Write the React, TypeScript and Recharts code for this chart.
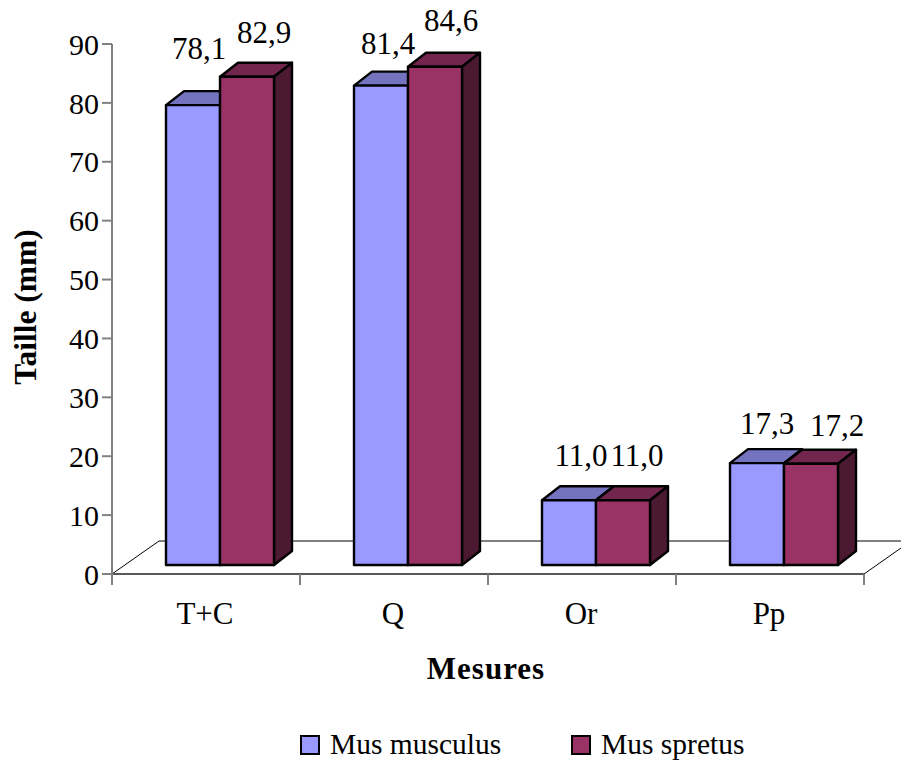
import { BarChart, Bar, XAxis, YAxis, Legend, LabelList } from "recharts";

const categories = ["T+C", "Q", "Or", "Pp"];
const musMusculus = [78.1, 81.4, 11.0, 17.3];
const musSpretus = [82.9, 84.6, 11.0, 17.2];
const yTicks = [0, 10, 20, 30, 40, 50, 60, 70, 80, 90];

const chartData = categories.map((name, i) => ({
  name,
  musculus: musMusculus[i],
  spretus: musSpretus[i],
}));

const FONT = '"Liberation Serif", serif';
const WIDTH = 901;
const HEIGHT = 762;
const LEFT = 112;
const TOP = 44;
const RIGHT = 864;
const BOTTOM = 574;
const BAND = (RIGHT - LEFT) / categories.length;

// the bars stand on a floor drawn behind them
const LIFT_X = 14;
const LIFT_Y = 9;
const DEPTH_X = 18;
const DEPTH_Y = 14;
const FLOOR_X = 47;
const FLOOR_Y = 33;

// where each value label sits relative to the top of its bar
const musculusNudge = [
  { dx: 6, gap: 46 },
  { dx: 7, gap: 32 },
  { dx: 12, gap: 34 },
  { dx: 10, gap: 29 },
];
const spretusNudge = [
  { dx: 17, gap: 34 },
  { dx: 16, gap: 36 },
  { dx: 14, gap: 34 },
  { dx: 26, gap: 28 },
];

function Box3D(props: any) {
  const { x, y, width, height, fill, topFill, sideFill } = props;
  const left = x + LIFT_X;
  const right = left + width;
  const top = y - LIFT_Y;
  const bottom = top + height;
  return (
    <g stroke="#000" strokeWidth={2.4} strokeLinejoin="round">
      <polygon
        points={`${left},${top} ${left + DEPTH_X},${top - DEPTH_Y} ${right + DEPTH_X},${top - DEPTH_Y} ${right},${top}`}
        fill={topFill}
      />
      <polygon
        points={`${right},${top} ${right + DEPTH_X},${top - DEPTH_Y} ${right + DEPTH_X},${bottom - DEPTH_Y} ${right},${bottom}`}
        fill={sideFill}
      />
      <rect x={left} y={top} width={width} height={height} fill={fill} />
    </g>
  );
}

function valueLabel(nudges: { dx: number; gap: number }[]) {
  return (props: any) => {
    const { x, y, width, value, index } = props;
    const n = nudges[index];
    return (
      <text
        x={x + LIFT_X + width / 2 + n.dx}
        y={y - LIFT_Y - n.gap}
        textAnchor="middle"
        fontFamily={FONT}
        fontSize={31}
        fill="#000"
      >
        {Number(value).toFixed(1).replace(".", ",")}
      </text>
    );
  };
}

function CategoryTick(props: any) {
  const { x, y, index, payload } = props;
  const last = index === categories.length - 1;
  return (
    <g>
      <line x1={x - BAND / 2} x2={x - BAND / 2} y1={BOTTOM} y2={BOTTOM + 11} stroke="#808080" strokeWidth={2} />
      {last && <line x1={x + BAND / 2} x2={x + BAND / 2} y1={BOTTOM} y2={BOTTOM + 11} stroke="#808080" strokeWidth={2} />}
      <text x={x - 1} y={y + 42} textAnchor="middle" fontFamily={FONT} fontSize={31} fill="#000">
        {payload.value}
      </text>
    </g>
  );
}

function LegendRow({ payload }: any) {
  return (
    <div style={{ position: "relative", height: 36, fontFamily: FONT, fontSize: 29.5, color: "#000" }}>
      {(payload || []).map((entry: any, i: number) => (
        <div key={entry.value} style={{ position: "absolute", left: i === 0 ? 300 : 571, top: 0, display: "flex", alignItems: "center", whiteSpace: "nowrap" }}>
          <span style={{ width: 16, height: 16, background: entry.color, border: "2px solid #000", marginRight: 10 }} />
          <span>{entry.value}</span>
        </div>
      ))}
    </div>
  );
}

export default function App() {
  return (
    <div style={{ position: "absolute", left: 0, top: 0, width: WIDTH, height: HEIGHT, background: "#fff" }}>
      <BarChart
        width={WIDTH}
        height={HEIGHT}
        data={chartData}
        barSize={54}
        barGap={0}
        margin={{ top: TOP, right: WIDTH - RIGHT, bottom: 32, left: 0 }}
      >
        <polyline
          points={`${LEFT},${BOTTOM} ${LEFT + FLOOR_X},${BOTTOM - FLOOR_Y}`}
          fill="none"
          stroke="#000"
          strokeWidth={1}
        />
        <line x1={LEFT + FLOOR_X} x2={RIGHT + FLOOR_X} y1={BOTTOM - FLOOR_Y} y2={BOTTOM - FLOOR_Y} stroke="#808080" strokeWidth={2} />
        <line x1={RIGHT} x2={RIGHT + FLOOR_X} y1={BOTTOM} y2={BOTTOM - FLOOR_Y} stroke="#000" strokeWidth={1} />
        <XAxis
          dataKey="name"
          height={120}
          tick={CategoryTick}
          tickLine={false}
          axisLine={{ stroke: "#595959", strokeWidth: 2 }}
          interval={0}
          label={{
            value: "Mesures",
            position: "insideBottom",
            offset: 15,
            dx: -2,
            style: { fontFamily: FONT, fontSize: 31, fontWeight: "bold", fill: "#000", letterSpacing: 1 },
          }}
        />
        <YAxis
          domain={[0, 90]}
          ticks={yTicks}
          width={LEFT}
          interval={0}
          tickSize={10}
          tickMargin={3}
          tickLine={{ stroke: "#808080", strokeWidth: 2 }}
          axisLine={{ stroke: "#808080", strokeWidth: 2 }}
          tick={{ fontFamily: FONT, fontSize: 30, fill: "#000" }}
          label={{
            value: "Taille (mm)",
            angle: -90,
            position: "insideLeft",
            offset: 25,
            dy: -2,
            style: { fontFamily: FONT, fontSize: 31.5, fontWeight: "bold", fill: "#000", textAnchor: "middle" },
          }}
        />
        <Legend
          verticalAlign="bottom"
          content={<LegendRow />}
          wrapperStyle={{ left: 0, bottom: -2, width: WIDTH }}
        />
        <Bar
          dataKey="musculus"
          name="Mus musculus"
          fill="#9999FF"
          isAnimationActive={false}
          shape={<Box3D topFill="#7373BF" sideFill="#4C4C80" />}
        >
          <LabelList dataKey="musculus" content={valueLabel(musculusNudge)} />
        </Bar>
        <Bar
          dataKey="spretus"
          name="Mus spretus"
          fill="#993366"
          isAnimationActive={false}
          shape={<Box3D topFill="#73264D" sideFill="#4C1933" />}
        >
          <LabelList dataKey="spretus" content={valueLabel(spretusNudge)} />
        </Bar>
      </BarChart>
    </div>
  );
}
